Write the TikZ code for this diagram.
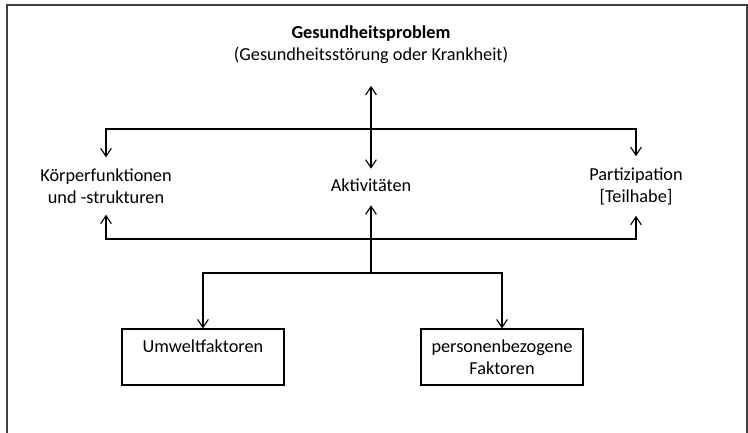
\documentclass[tikz,border=0pt]{standalone}
\usepackage{fontspec}
\setmainfont{Carlito}
\usetikzlibrary{arrows.meta}
\begin{document}
\begin{tikzpicture}[x=0.75pt, y=-0.75pt, line width=0.85pt, >={Straight Barb[length=6pt,width=8pt]},
  every node/.style={font=\fontsize{13.7}{16.5}\selectfont, align=center, inner sep=3pt},
  factor box/.style={draw, minimum width=121.5pt, minimum height=42pt, align=center}]
\useasboundingbox (0,0) rectangle (748,432);
\begin{scope}
\clip (0,0) rectangle (748,432);
\draw[line width=1.5pt, black!75] (6.5,4.5) rectangle (747,450);
\end{scope}
% Komponenten
\node (prob) at (371,45) {\textbf{Gesundheitsproblem}\\(Gesundheitsstörung oder Krankheit)};
\node (koerper) at (106,186) {Körperfunktionen\\und -strukturen};
\node (akt) at (371,185) {Aktivitäten};
\node (part) at (636,186) {Partizipation\\{[Teilhabe]}};
%\node (kontext) at (372,300) {Kontextfaktoren};
\node [factor box] (umwelt) at (203,357) {Umweltfaktoren\\ \mbox{}};
\node [factor box] (person) at (502,357) {personenbezogene\\Faktoren};
\coordinate (upper) at (371,129);
\coordinate (lower) at (371,239);
\coordinate (fork) at (371,273);
\draw [<->, shorten <=13pt, shorten >=4pt] (prob) -- (akt);
\draw [->, shorten >=5pt] (upper) -| (koerper);
\draw [->, shorten >=5pt] (upper) -| (part);
\draw [->, shorten >=5pt] (lower) -| (koerper);
\draw [->, shorten >=5pt] (lower) -| (part);
\draw [->, shorten >=7pt] (lower) -- (akt);
\path
    (lower) edge (fork)
    (fork) edge [->, to path={-| (\tikztotarget)}] (umwelt)
           edge [->, to path={-| (\tikztotarget)}] (person);
\end{tikzpicture}
\end{document}
